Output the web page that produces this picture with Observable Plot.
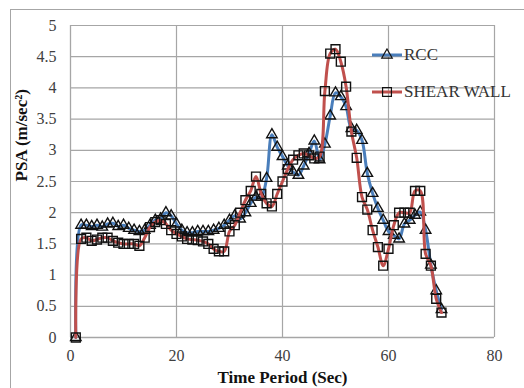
<!DOCTYPE html>
<html>
<head>
<meta charset="utf-8">
<script src="https://cdn.jsdelivr.net/npm/d3@7"></script>
<script src="https://cdn.jsdelivr.net/npm/@observablehq/plot@0.6"></script>
<style>
  html, body { margin: 0; padding: 0; background: #fff; }
  #chart { position: relative; width: 524px; height: 388px; overflow: hidden; }
  #frame { position: absolute; left: 10px; top: 9px; width: 600px; height: 500px;
           border: 1px solid #a6a6a6; box-sizing: border-box; pointer-events: none; }
  #legend { position: absolute; left: 372px; top: 43px; font-family: 'Liberation Serif', 'Times New Roman', serif;
            font-size: 17px; color: #333; }
  #legend .row { display: flex; align-items: center; height: 24px; margin-bottom: 13px; }
  #legend svg { margin-right: 1px; }
</style>
</head>
<body>
<div id="chart">
  <div id="frame"></div>
</div>
<script>
// Time period (sec)
const time = [1,2,3,4,5,6,7,8,9,10,11,12,13,14,15,16,17,18,19,20,
              21,22,23,24,25,26,27,28,29,30,31,32,33,34,35,36,37,38,39,40,
              41,42,43,44,45,46,47,48,49,50,51,52,53,54,55,56,57,58,59,60,
              61,62,63,64,65,66,67,68,69,70];

// Pseudo spectral acceleration (m/sec²) — RCC frame
const rcc = [0,1.8,1.8,1.78,1.8,1.77,1.82,1.83,1.78,1.8,1.75,1.72,1.7,1.72,1.8,1.88,1.9,2.0,1.95,1.82,
             1.72,1.68,1.68,1.7,1.7,1.7,1.72,1.75,1.8,1.88,1.95,1.9,2.0,2.15,2.25,2.25,2.55,3.25,3.05,2.9,
             2.75,2.65,2.6,2.75,2.95,3.15,2.85,3.1,3.55,3.92,3.86,3.7,3.35,3.32,3.16,2.63,2.31,2.07,1.88,1.7,
             1.64,1.58,1.82,1.88,1.96,2.01,1.72,1.16,0.75,0.45];

// Pseudo spectral acceleration (m/sec²) — shear wall building
const shearWall = [0,1.58,1.6,1.55,1.57,1.6,1.6,1.55,1.52,1.5,1.5,1.5,1.47,1.6,1.77,1.85,1.88,1.82,1.72,1.66,
                   1.62,1.58,1.57,1.56,1.54,1.5,1.42,1.38,1.38,1.7,1.8,2.0,2.2,2.35,2.58,2.3,2.15,2.1,2.3,2.5,
                   2.7,2.85,2.92,2.95,2.92,2.87,2.9,3.95,4.55,4.62,4.42,4.02,3.3,2.88,2.25,2.05,1.72,1.45,1.15,1.42,
                   1.8,2.0,2.0,2.0,2.35,2.35,1.34,1.15,0.62,0.4];

const seriesNames = ["RCC", "SHEAR WALL"];
const seriesColors = ["#4a7ebb", "#c0504d"];
const seriesSymbols = ["triangle", "square"];
const xTicks = [0, 20, 40, 60, 80];
const yTicks = [0, 0.5, 1, 1.5, 2, 2.5, 3, 3.5, 4, 4.5, 5];

const rows = [rcc, shearWall].flatMap((vals, i) =>
  vals.map((v, j) => ({series: seriesNames[i], t: time[j], psa: v})));
const rccRows = rows.filter(d => d.series === "RCC");
const swRows = rows.filter(d => d.series === "SHEAR WALL");

const serif = "Liberation Serif";

const plot = Plot.plot({
  width: 524,
  height: 388,
  marginLeft: 70,
  marginRight: 30,
  marginTop: 25,
  marginBottom: 51,
  style: {fontFamily: serif, fontSize: "16px", color: "#404040", background: "transparent", overflow: "visible"},
  x: {domain: [0, 80], ticks: xTicks},
  y: {domain: [0, 5], ticks: yTicks},
  marks: [
    Plot.ruleY([0], {stroke: "#a6a6a6", strokeWidth: 1.3}),
    Plot.ruleX([0], {stroke: "#a6a6a6", strokeWidth: 1.3}),
    Plot.tickX(xTicks.slice(1), {y1: 0, y2: 0.06, stroke: "#a6a6a6", strokeWidth: 1.2}),
    Plot.axisX({ticks: xTicks, tickSize: 0, tickPadding: 12, fontSize: 16, fontFamily: serif, fill: "#404040", label: null}),
    Plot.axisY({ticks: yTicks, tickSize: 0, tickPadding: 14, fontSize: 16, fontFamily: serif, fill: "#404040", label: null,
                tickFormat: d => String(d)}),
    Plot.tickY(yTicks.slice(1), {x1: 0, x2: 0.9, stroke: "#a6a6a6", strokeWidth: 1.2}),
    Plot.line(rccRows, {x: "t", y: "psa", stroke: seriesColors[0], strokeWidth: 3, curve: "catmull-rom"}),
    Plot.dot(rccRows, {x: "t", y: "psa", symbol: seriesSymbols[0], r: 3.9, fill: "none", stroke: "#111", strokeWidth: 1.4}),
    Plot.line(swRows, {x: "t", y: "psa", stroke: seriesColors[1], strokeWidth: 3, curve: "catmull-rom"}),
    Plot.dot(swRows, {x: "t", y: "psa", symbol: seriesSymbols[1], r: 5.0, fill: "none", stroke: "#111", strokeWidth: 1.4}),
    Plot.text(["Time Period (Sec)"], {frameAnchor: "bottom", dy: 45, fontWeight: "bold", fontSize: 17, fontFamily: serif, fill: "#111"}),
    Plot.text(["PSA (m/sec²)"], {frameAnchor: "left", dx: -49, rotate: -90, fontWeight: "bold", fontSize: 17, fontFamily: serif, fill: "#111"})
  ]
});
plot.style.position = "absolute";
plot.style.left = "0px";
plot.style.top = "0px";
document.getElementById("chart").appendChild(plot);

// Legend: line swatch with the series marker, then its name
const legend = document.createElement("div");
legend.id = "legend";
seriesNames.forEach((name, i) => {
  const row = document.createElement("div");
  row.className = "row";
  const sw = d3.create("svg").attr("width", 31).attr("height", 14);
  sw.append("line").attr("x1", 0).attr("x2", 30).attr("y1", 7).attr("y2", 7)
    .attr("stroke", seriesColors[i]).attr("stroke-width", 3);
  const sym = seriesSymbols[i] === "triangle" ? d3.symbolTriangle : d3.symbolSquare;
  const size = seriesSymbols[i] === "triangle" ? 3.9 * 3.9 * Math.PI : 5 * 5 * Math.PI;
  sw.append("path").attr("d", d3.symbol(sym, size)()).attr("transform", "translate(15,7)")
    .attr("fill", "none").attr("stroke", "#111").attr("stroke-width", 1.2);
  row.appendChild(sw.node());
  const label = document.createElement("span");
  label.textContent = name;
  row.appendChild(label);
  legend.appendChild(row);
});
document.getElementById("chart").appendChild(legend);
</script>
</body>
</html>
